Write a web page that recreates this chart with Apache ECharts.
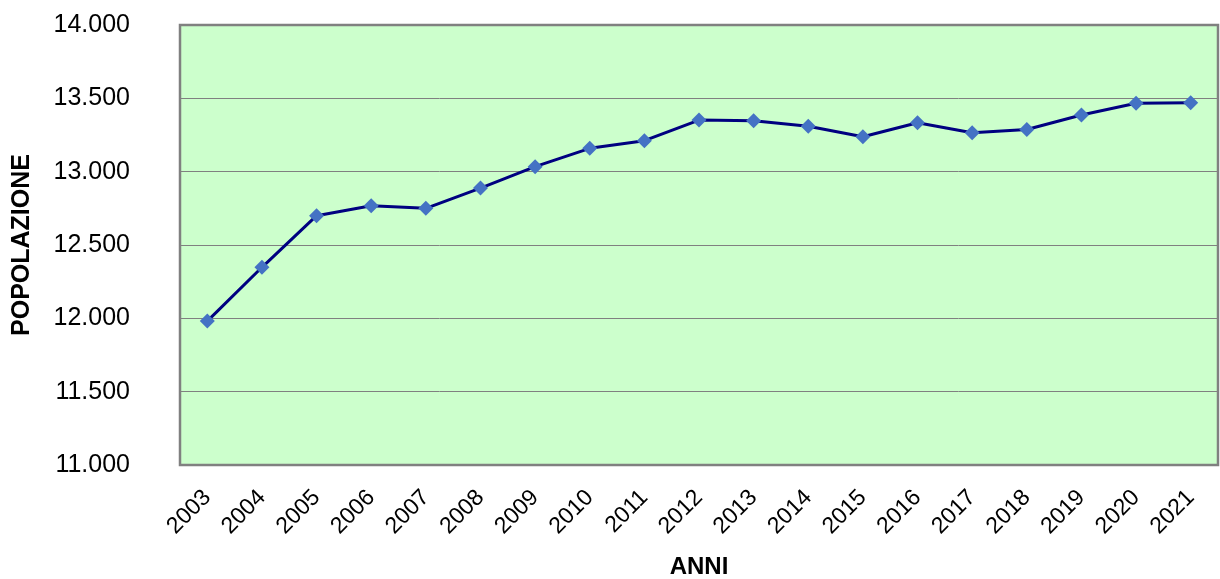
<!DOCTYPE html>
<html>
<head>
<meta charset="utf-8">
<script src="https://cdn.jsdelivr.net/npm/echarts@6/dist/echarts.min.js"></script>
<style>
  html, body { margin: 0; padding: 0; background: #fff; }
  #chart { width: 1220px; height: 579px; }
</style>
</head>
<body>
<div id="chart"></div>
<script>
// anni e popolazione residente
var anni = ['2003', '2004', '2005', '2006', '2007', '2008', '2009', '2010', '2011', '2012',
            '2013', '2014', '2015', '2016', '2017', '2018', '2019', '2020', '2021'];
var popolazione = [11981, 12348, 12700, 12768, 12750, 12888, 13034, 13159, 13211, 13352,
                   13347, 13309, 13238, 13334, 13266, 13288, 13386, 13466, 13470];
var yMin = 11000;
var yMax = 14000;
var yStep = 500;

var chart = echarts.init(document.getElementById('chart'));

chart.setOption({
  animation: false,
  textStyle: { fontFamily: 'Liberation Sans, Arial, sans-serif' },
  grid: {
    left: 180,
    right: 2,
    top: 25,
    bottom: 114,
    outerBoundsMode: 'none',
    containLabel: false,
    show: true,
    backgroundColor: '#ccffcc',
    borderColor: '#808080',
    borderWidth: 2.5
  },
  xAxis: {
    type: 'category',
    data: anni,
    name: 'ANNI',
    nameLocation: 'middle',
    nameGap: 90,
    nameTextStyle: { fontSize: 24, fontWeight: 'bold', color: '#000' },
    axisLine: { show: false },
    axisTick: { show: false },
    axisLabel: { rotate: 45, fontSize: 23, color: '#000', margin: 29 }
  },
  yAxis: {
    type: 'value',
    min: yMin,
    max: yMax,
    interval: yStep,
    name: 'POPOLAZIONE',
    nameLocation: 'middle',
    nameGap: 145,
    nameTextStyle: { fontSize: 25, fontWeight: 'bold', color: '#000' },
    axisLine: { show: false },
    axisTick: { show: false },
    axisLabel: {
      fontSize: 25,
      color: '#000',
      margin: 50,
      formatter: function (v) {
        return v.toString().replace(/\B(?=(\d{3})+(?!\d))/g, '.');
      }
    },
    splitLine: { lineStyle: { color: '#808080', width: 1 } }
  },
  series: [{
    name: 'Popolazione',
    type: 'line',
    data: popolazione,
    symbol: 'diamond',
    symbolSize: 15,
    itemStyle: { color: '#4472c4' },
    lineStyle: { color: '#000080', width: 3 }
  }]
});
</script>
</body>
</html>
